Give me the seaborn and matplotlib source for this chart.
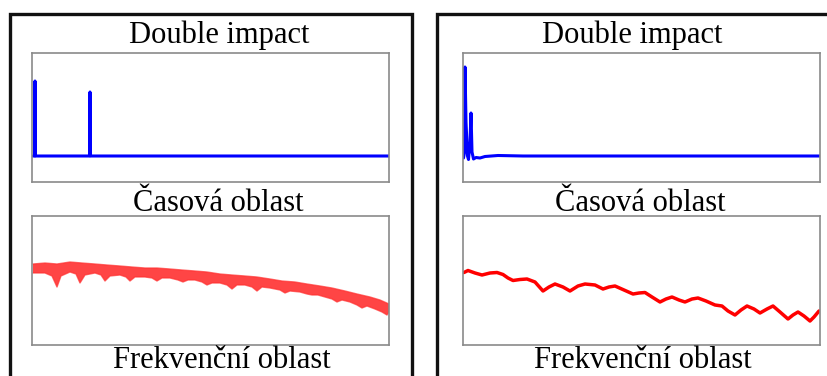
import numpy as np
import matplotlib
matplotlib.use("Agg")
import matplotlib.pyplot as plt
import seaborn as sns
from matplotlib.patches import Rectangle

sns.set_theme(style="white")
plt.rcParams['font.family'] = ['Liberation Serif', 'DejaVu Serif']

# ---------------- data (arbitrary units) ----------------
# Left panel: time domain (two separated impacts)
left_time_t = [1, 2.6, 3.0, 3.4, 57.5, 58.0, 58.5, 357]
left_time_v = [26, 26, 101, 26, 26, 90, 26, 26]

# Left panel: frequency domain, noisy band (upper / lower envelopes)
left_freq_upper_f = [1, 13, 25, 38, 50, 63, 75, 88, 100, 113, 125, 138, 150, 163, 175,
                     188, 200, 213, 225, 238, 250, 263, 275, 288, 300, 313, 325, 338, 348, 357]
left_freq_upper_v = [81, 82, 81, 83, 82, 81, 80, 79, 78, 77, 77, 76, 75, 74, 73,
                     71, 70, 69, 68, 66, 64, 63, 61, 59, 57, 54, 51, 48, 45, 41]
left_freq_lower_f = [1, 13, 20, 25, 29, 38, 44, 48, 53, 63, 69, 73, 78, 88, 94, 98, 103,
                     113, 120, 125, 130, 138, 146, 151, 156, 163, 170, 175, 180, 188, 195,
                     200, 205, 213, 220, 225, 230, 238, 248, 253, 258, 268, 275, 280, 286,
                     293, 300, 305, 310, 318, 325, 330, 335, 343, 350, 355, 357]
left_freq_lower_v = [72, 72, 69, 58, 69, 73, 71, 62, 70, 72, 70, 64, 69, 70, 68, 64, 68,
                     68, 67, 64, 67, 67, 65, 63, 65, 65, 63, 60, 62, 62, 60,
                     56, 60, 60, 58, 54, 58, 57, 55, 52, 54, 53, 51, 50, 50,
                     48, 46, 43, 45, 43, 40, 37, 39, 36, 33, 30, 33]

# Right panel: time domain (two close impacts)
right_time_t = [0.5, 1.5, 2.0, 3.0, 4.5, 5.5, 7.0, 8.0, 9.0, 10.5, 13, 17, 22, 35, 60, 357]
right_time_v = [24, 30, 115, 60, 26, 22.5, 40, 69, 30, 23, 24.5, 24, 25.5, 26.5, 26, 26]

# Right panel: frequency domain (smooth ripple)
right_freq_f = [1, 5, 12, 19, 27, 34, 40, 45, 50, 57, 64, 72, 80, 86, 92, 100, 107, 115, 122,
                132, 140, 146, 152, 161, 170, 176, 182, 189, 197, 203, 209, 216, 222,
                229, 235, 243, 252, 259, 265, 272, 278, 284, 291, 297, 304, 310, 317,
                325, 330, 335, 341, 347, 351, 356]
right_freq_v = [72.5, 74.5, 72, 70, 72, 72.5, 70.5, 67, 64.5, 65.5, 66, 63, 54, 58, 61, 58, 54, 59, 61,
                60, 56, 58, 59, 55, 51, 52, 52.5, 48, 43, 46, 48, 45, 43,
                46, 47, 44, 40, 39, 34, 30, 35, 39, 36, 32, 36, 39, 33,
                26, 30, 33, 29, 24, 28, 34]

title_text = "Double impact"
time_label = "Časová oblast"
freq_label = "Frekvenční oblast"

# ---------------- figure ----------------
W, H = 827, 376
fig = plt.figure(figsize=(W / 100, H / 100), dpi=100)
fig.patch.set_facecolor("white")


def fax(x0, y0, x1, y1):
    """Axes from pixel box (top-left origin)."""
    return fig.add_axes([x0 / W, 1 - y1 / H, (x1 - x0) / W, (y1 - y0) / H])


def style(ax):
    ax.set_xlim(0, 357)
    ax.set_ylim(0, 129)
    ax.set_xticks([])
    ax.set_yticks([])
    ax.set_xlabel("")
    ax.set_ylabel("")
    ax.set_facecolor("white")
    for s in ax.spines.values():
        s.set_visible(True)
        s.set_color("#8a8a8a")
        s.set_linewidth(1.2)


# outer frames
for (x0, x1) in [(10, 412), (437, 832)]:
    fig.add_artist(Rectangle((x0 / W, 1 - 385 / H), (x1 - x0) / W, (385 - 14) / H,
                             transform=fig.transFigure, fill=False,
                             edgecolor="#111111", linewidth=2.4))

panels = [
    dict(x0=32, x1=389, tcx=219, bcx=218, fcx=222,
         tt=left_time_t, tv=left_time_v, band=True),
    dict(x0=463, x1=820, tcx=632, bcx=640, fcx=643,
         tt=right_time_t, tv=right_time_v, band=False),
]

for p in panels:
    ax_t = fax(p["x0"], 53, p["x1"], 182)
    sns.lineplot(x=p["tt"], y=p["tv"], ax=ax_t, color="#0000ff", linewidth=2.2,
                 estimator=None, sort=False)
    style(ax_t)

    ax_f = fax(p["x0"], 216, p["x1"], 345)
    if p["band"]:
        px = np.r_[left_freq_upper_f, left_freq_lower_f[::-1]]
        py = np.r_[left_freq_upper_v, left_freq_lower_v[::-1]]
        ax_f.fill(px, py, color="#ff2424", alpha=0.85, linewidth=0)
        sns.lineplot(x=left_freq_upper_f, y=left_freq_upper_v, ax=ax_f,
                     color="#ff3030", linewidth=1.0, alpha=0.7, estimator=None, sort=False)
        sns.lineplot(x=left_freq_lower_f, y=left_freq_lower_v, ax=ax_f,
                     color="#ff3030", linewidth=1.0, alpha=0.7, estimator=None, sort=False)
    else:
        sns.lineplot(x=right_freq_f, y=right_freq_v, ax=ax_f, color="#ff0000",
                     linewidth=2.5, estimator=None, sort=False,
                     solid_joinstyle="round", solid_capstyle="round")
    style(ax_f)

    fs = 22
    fig.text(p["tcx"] / W, 1 - 43 / H, title_text, ha="center", va="baseline",
             fontsize=fs, color="black")
    fig.text(p["bcx"] / W, 1 - 211 / H, time_label, ha="center", va="baseline",
             fontsize=fs, color="black")
    fig.text(p["fcx"] / W, 1 - 368 / H, freq_label, ha="center", va="baseline",
             fontsize=fs, color="black")

fig.savefig("out.png", dpi=100)
